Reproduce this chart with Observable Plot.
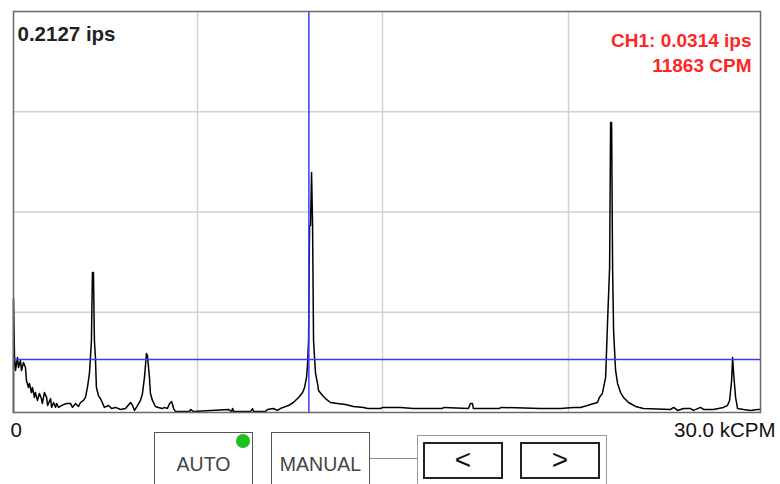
<!DOCTYPE html>
<html>
<head>
<meta charset="utf-8">
<script src="https://cdn.jsdelivr.net/npm/d3@7"></script>
<script src="https://cdn.jsdelivr.net/npm/@observablehq/plot@0.6"></script>
<style>
  html, body { margin: 0; padding: 0; background: #fff; }
  #wrap { position: relative; width: 780px; height: 484px; overflow: hidden; font-family: "Liberation Sans", Arial, Helvetica, sans-serif; }
  #wrap svg { display: block; }
  .btn { position: absolute; box-sizing: border-box; border: 1.5px solid #555; background: #fff; color: #444; font-size: 19.5px; text-align: center; }
  .nav { position: absolute; box-sizing: border-box; border: 2px solid #222; background: #fff; color: #111; font-size: 28px; text-align: center; line-height: 32px; }
</style>
</head>
<body>
<div id="wrap"></div>
<script>
// Spectrum: frequency (kCPM) and amplitude (ips)
const freq = [0, 0, 0.04, 0.08, 0.16, 0.20, 0.28, 0.32, 0.40, 0.48, 0.52, 0.60, 0.64, 0.72, 0.76, 0.84, 0.88, 0.96, 1.04, 1.12, 1.16,
  1.24, 1.33, 1.37, 1.49, 1.53, 1.61, 1.69, 1.73, 1.81, 1.93, 2.01, 2.13, 2.29, 2.37, 2.49, 2.61, 2.69, 2.81, 2.89, 2.97,
  3.05, 3.09, 3.13, 3.17, 3.21, 3.25, 3.29, 3.33, 3.41, 3.53, 3.65, 3.82, 3.94, 4.10, 4.30, 4.50, 4.70, 4.78, 4.86, 4.98,
  5.10, 5.18, 5.26, 5.34, 5.38, 5.46, 5.50, 5.58, 5.70, 5.82, 5.98, 6.06, 6.18, 6.27, 6.35, 6.43, 6.51, 7.07, 7.11, 7.23,
  8.63, 8.76, 8.80, 8.84, 9.52, 9.60, 9.64, 10.12, 10.20, 10.44, 10.60, 10.72, 10.84, 11.04, 11.24, 11.45, 11.61, 11.69,
  11.77, 11.81, 11.85, 11.89, 11.93, 11.97, 12.01, 12.05, 12.09, 12.13, 12.21, 12.25, 12.41, 12.53, 12.73, 13.01, 13.33,
  13.65, 14.06, 14.22, 14.74, 14.82, 15.54, 16.06, 16.75, 17.20, 17.30, 18.27, 18.35, 18.43, 18.47, 19.50, 19.60, 21.16,
  21.97, 22.49, 22.77, 23.05, 23.17, 23.45, 23.53, 23.65, 23.78, 23.86, 23.94, 23.98, 24.02, 24.06, 24.10, 24.14, 24.18,
  24.26, 24.38, 24.50, 24.70, 24.98, 25.30, 26.39, 26.51, 26.67, 26.91, 27.19, 27.31, 27.59, 27.71, 28.11, 28.51, 28.67,
  28.76, 28.84, 28.88, 28.92, 29.00, 29.08, 29.32, 29.60, 29.88, 30.0];
const amp = [0, 0.0605, 0.0302, 0.0223, 0.0292, 0.0239, 0.0276, 0.0223, 0.0265, 0.0239, 0.0170, 0.0133, 0.0154, 0.0106, 0.0133, 0.0080, 0.0106, 0.0064, 0.0101, 0.0074, 0.0048,
  0.0106, 0.0080, 0.0037, 0.0074, 0.0027, 0.0053, 0.0027, 0.0048, 0.0027, 0.0037, 0.0042, 0.0048, 0.0048, 0.0027, 0.0048, 0.0032, 0.0053, 0.0064, 0.0080, 0.0133,
  0.0207, 0.0292, 0.0382, 0.0743, 0.0743, 0.0382, 0.0292, 0.0133, 0.0090, 0.0064, 0.0027, 0.0037, 0.0021, 0.0027, 0.0016, 0.0021, 0.0053, 0.0037, 0.0011, 0.0037,
  0.0064, 0.0101, 0.0186, 0.0313, 0.0302, 0.0186, 0.0101, 0.0064, 0.0032, 0.0027, 0.0021, 0.0027, 0.0021, 0.0048, 0.0058, 0.0021, 0.0005, 0.0005, 0.0016, 0.0005,
  0.0016, 0.0005, 0.0021, 0.0005, 0.0005, 0.0021, 0.0005, 0.0005, 0.0016, 0.0021, 0.0011, 0.0021, 0.0027, 0.0037, 0.0053, 0.0080, 0.0106, 0.0133,
  0.0186, 0.0260, 0.0382, 0.0992, 0.0992, 0.1273, 0.1008, 0.0382, 0.0292, 0.0207, 0.0154, 0.0117, 0.0090, 0.0074, 0.0053, 0.0048, 0.0042,
  0.0032, 0.0027, 0.0021, 0.0021, 0.0027, 0.0027, 0.0021, 0.0021, 0.0021, 0.0027, 0.0021, 0.0048, 0.0048, 0.0021, 0.0021, 0.0027, 0.0021,
  0.0021, 0.0027, 0.0027, 0.0037, 0.0042, 0.0053, 0.0080, 0.0101, 0.0186, 0.0488, 0.0769, 0.1538, 0.1538, 0.0769, 0.0435, 0.0329, 0.0223,
  0.0154, 0.0106, 0.0080, 0.0053, 0.0032, 0.0021, 0.0016, 0.0027, 0.0011, 0.0021, 0.0021, 0.0011, 0.0027, 0.0016, 0.0016, 0.0027, 0.0037,
  0.0064, 0.0170, 0.0292, 0.0207, 0.0080, 0.0021, 0.0016, 0.0011, 0.0016, 0.0016];

const xGrid = [7.39, 14.82, 22.29];
const yGrid = [0.0532, 0.1064, 0.1595];
const yMax = 0.2127;
const cursorFreq = 11.863;
const cursorAmp = 0.0281;
const topLabel = "0.2127 ips";
const cursorLabel = "CH1: 0.0314 ips\n11863 CPM";
const xMinLabel = "0";
const xMaxLabel = "30.0 kCPM";
const buttons = ["AUTO", "MANUAL"];
const navs = ["<", ">"];

const data = freq.map((f, i) => ({f, a: amp[i]}));

const chart = Plot.plot({
  width: 780,
  height: 484,
  marginTop: 11,
  marginBottom: 72,
  marginLeft: 13,
  marginRight: 20,
  style: {fontFamily: "'Liberation Sans', Arial, Helvetica, sans-serif", background: "#fff"},
  x: {domain: [0, 30], axis: null},
  y: {domain: [0, yMax], axis: null},
  marks: [
    Plot.ruleX(xGrid, {stroke: "#d2d2d2", strokeWidth: 1.5}),
    Plot.ruleY(yGrid, {stroke: "#d2d2d2", strokeWidth: 1.5}),
    Plot.line(data, {x: "f", y: "a", stroke: "#000", strokeWidth: 1.5}),
    Plot.ruleY([cursorAmp], {stroke: "#3a3aff", strokeWidth: 1.5}),
    Plot.ruleX([cursorFreq], {stroke: "#3a3aff", strokeWidth: 1.5}),
    Plot.frame({stroke: "#6a6a6a", strokeWidth: 1.5}),
    Plot.text([topLabel], {text: d => d, frameAnchor: "top-left", textAnchor: "start", lineAnchor: "top", dx: 4, dy: 15, fontSize: 20.5, fontWeight: "bold", fill: "#222"}),
    Plot.text([cursorLabel], {text: d => d, frameAnchor: "top-right", textAnchor: "end", lineAnchor: "top", dx: -9, dy: 18, fontSize: 19, fontWeight: "bold", fill: "#ff2626", lineHeight: 1.3}),
    Plot.text([0], {x: d => d, text: () => xMinLabel, frameAnchor: "bottom", textAnchor: "start", lineAnchor: "top", dx: -3, dy: 10, fontSize: 20.5, fill: "#111"}),
    Plot.text([30], {x: d => d, text: () => xMaxLabel, frameAnchor: "bottom", textAnchor: "end", lineAnchor: "top", dx: 15, dy: 10, fontSize: 20.5, fill: "#111"})
  ]
});
const wrap = document.getElementById("wrap");
wrap.appendChild(chart);

// controls below the chart
function box(cls, left, top, w, h, text, extra) {
  const d = document.createElement("div");
  d.className = cls;
  Object.assign(d.style, {left: left + "px", top: top + "px", width: w + "px", height: h + "px"}, extra || {});
  d.textContent = text;
  wrap.appendChild(d);
  return d;
}
const auto = box("btn", 154, 432, 99, 70, buttons[0], {lineHeight: "62px"});
const dot = document.createElement("div");
Object.assign(dot.style, {position: "absolute", left: "81px", top: "1px", width: "14px", height: "14px", borderRadius: "50%", background: "#1fbf1f"});
auto.style.overflow = "hidden";
auto.appendChild(dot);
box("btn", 271, 432, 99, 70, buttons[1], {lineHeight: "62px"});
const conn = document.createElement("div");
Object.assign(conn.style, {position: "absolute", left: "370px", top: "458px", width: "47px", height: "0", borderTop: "1.5px solid #888"});
wrap.appendChild(conn);
box("btn", 417, 435, 190, 70, "", {border: "1.5px solid #999"});
box("nav", 423, 442, 80, 37, navs[0]);
box("nav", 520, 442, 80, 37, navs[1]);
</script>
</body>
</html>
